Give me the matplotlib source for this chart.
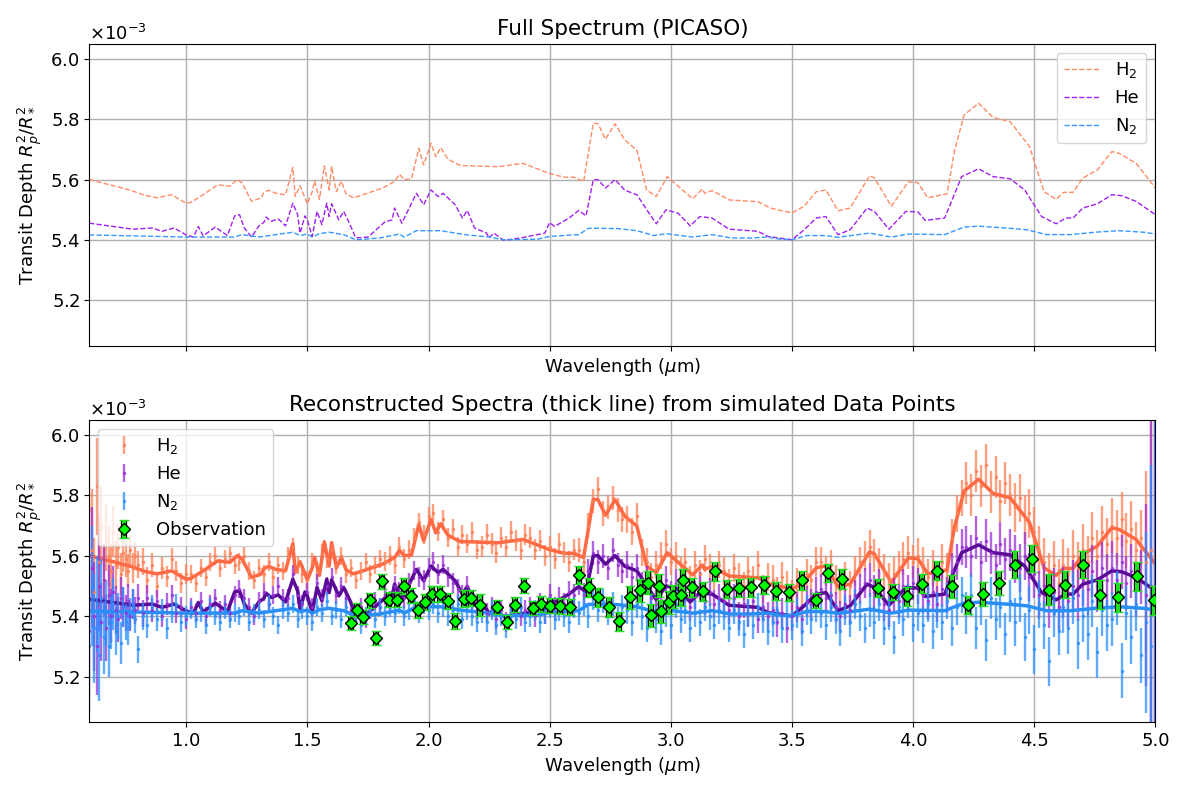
import numpy as np
import matplotlib
matplotlib.use("Agg")
import matplotlib.pyplot as plt
import matplotlib.patheffects as pe

plt.rcParams['font.size'] = 13

# model spectra (PICASO), depth in units of 1e-3
h2_wl = [0.60, 0.70, 0.77, 0.83, 0.88, 0.94, 1.00, 1.02, 1.07, 1.13, 1.18, 1.21, 1.23, 1.27,
         1.31, 1.32, 1.34, 1.37, 1.41, 1.44, 1.45, 1.47, 1.50, 1.52, 1.53, 1.55, 1.57, 1.59,
         1.60, 1.62, 1.64, 1.66, 1.69, 1.73, 1.81, 1.86, 1.88, 1.90, 1.93, 1.96, 1.98, 2.01,
         2.03, 2.05, 2.08, 2.13, 2.29, 2.39, 2.50, 2.56, 2.60, 2.64, 2.68, 2.70, 2.73, 2.77,
         2.81, 2.86, 2.90, 2.94, 2.985, 3.015, 3.09, 3.13, 3.14, 3.17, 3.24, 3.36, 3.41, 3.50,
         3.55, 3.60, 3.64, 3.69, 3.74, 3.82, 3.84, 3.91, 3.98, 4.02, 4.06, 4.14, 4.17, 4.21,
         4.27, 4.33, 4.40, 4.48, 4.54, 4.59, 4.62, 4.66, 4.70, 4.76, 4.82, 4.85, 4.92, 5.00]
h2_model = [5.600, 5.580, 5.565, 5.548, 5.540, 5.550, 5.522, 5.525, 5.550, 5.583, 5.578, 5.600, 5.590, 5.528,
            5.540, 5.557, 5.565, 5.555, 5.550, 5.640, 5.545, 5.580, 5.520, 5.560, 5.595, 5.535, 5.646, 5.566,
            5.643, 5.560, 5.595, 5.553, 5.540, 5.550, 5.572, 5.594, 5.618, 5.600, 5.603, 5.704, 5.649, 5.720,
            5.676, 5.706, 5.668, 5.647, 5.643, 5.654, 5.620, 5.608, 5.608, 5.594, 5.787, 5.785, 5.734, 5.785,
            5.731, 5.698, 5.566, 5.544, 5.610, 5.589, 5.537, 5.569, 5.555, 5.564, 5.533, 5.527, 5.506, 5.490,
            5.512, 5.560, 5.566, 5.497, 5.506, 5.613, 5.606, 5.512, 5.593, 5.590, 5.540, 5.553, 5.693, 5.814,
            5.853, 5.806, 5.792, 5.710, 5.560, 5.535, 5.558, 5.558, 5.605, 5.632, 5.693, 5.687, 5.654, 5.572]

he_wl = [0.60, 0.78, 0.86, 0.90, 0.95, 1.00, 1.03, 1.05, 1.07, 1.12, 1.17, 1.20, 1.22, 1.24,
         1.27, 1.30, 1.32, 1.33, 1.35, 1.38, 1.41, 1.44, 1.46, 1.47, 1.49, 1.50, 1.52, 1.54,
         1.56, 1.58, 1.59, 1.60, 1.63, 1.65, 1.67, 1.70, 1.75, 1.82, 1.85, 1.86, 1.89, 1.95,
         1.98, 2.01, 2.04, 2.06, 2.11, 2.14, 2.16, 2.19, 2.24, 2.25, 2.27, 2.31, 2.38, 2.48,
         2.50, 2.52, 2.58, 2.62, 2.65, 2.68, 2.70, 2.73, 2.77, 2.81, 2.86, 2.91, 2.94, 2.98,
         3.03, 3.08, 3.12, 3.17, 3.24, 3.36, 3.40, 3.50, 3.55, 3.60, 3.64, 3.69, 3.74, 3.81,
         3.84, 3.90, 3.97, 4.02, 4.05, 4.13, 4.20, 4.27, 4.33, 4.40, 4.46, 4.53, 4.59, 4.63,
         4.66, 4.70, 4.76, 4.82, 4.86, 4.92, 5.00]
he_model = [5.456, 5.436, 5.440, 5.429, 5.440, 5.417, 5.410, 5.445, 5.414, 5.443, 5.415, 5.480, 5.484, 5.440,
            5.410, 5.447, 5.458, 5.476, 5.462, 5.470, 5.447, 5.522, 5.484, 5.423, 5.480, 5.467, 5.412, 5.495,
            5.451, 5.522, 5.478, 5.520, 5.467, 5.495, 5.462, 5.407, 5.410, 5.460, 5.467, 5.506, 5.456, 5.555,
            5.517, 5.566, 5.544, 5.555, 5.517, 5.473, 5.498, 5.440, 5.423, 5.407, 5.423, 5.399, 5.407, 5.423,
            5.458, 5.445, 5.473, 5.498, 5.480, 5.600, 5.600, 5.572, 5.600, 5.565, 5.550, 5.489, 5.454, 5.500,
            5.489, 5.447, 5.478, 5.473, 5.436, 5.429, 5.412, 5.401, 5.434, 5.473, 5.478, 5.418, 5.434, 5.506,
            5.495, 5.436, 5.495, 5.493, 5.465, 5.473, 5.610, 5.636, 5.610, 5.603, 5.566, 5.478, 5.454, 5.473,
            5.473, 5.506, 5.520, 5.550, 5.547, 5.528, 5.484]

n2_wl = [0.60, 1.00, 1.20, 1.23, 1.30, 1.44, 1.47, 1.50, 1.52, 1.55, 1.59, 1.65, 1.70, 1.80,
         1.88, 1.90, 1.95, 2.00, 2.05, 2.15, 2.25, 2.31, 2.45, 2.50, 2.62, 2.66, 2.70, 2.78,
         2.86, 2.93, 2.98, 3.09, 3.17, 3.25, 3.33, 3.40, 3.45, 3.50, 3.56, 3.64, 3.69, 3.82,
         3.91, 3.98, 4.13, 4.21, 4.27, 4.40, 4.47, 4.55, 4.65, 4.75, 4.85, 4.95, 5.00]
n2_model = [5.417, 5.410, 5.410, 5.418, 5.410, 5.426, 5.415, 5.420, 5.410, 5.421, 5.426, 5.418, 5.401, 5.407,
            5.420, 5.410, 5.431, 5.431, 5.431, 5.418, 5.410, 5.401, 5.403, 5.412, 5.418, 5.439, 5.439, 5.438,
            5.431, 5.415, 5.421, 5.410, 5.418, 5.407, 5.407, 5.410, 5.403, 5.401, 5.415, 5.415, 5.409, 5.423,
            5.410, 5.420, 5.418, 5.443, 5.446, 5.439, 5.434, 5.418, 5.418, 5.426, 5.431, 5.426, 5.420]

# simulated data points (shared wavelength grid and errors)
sim_wl = [0.60, 0.61, 0.62, 0.63, 0.64, 0.65, 0.66, 0.67, 0.68, 0.69,
          0.70, 0.71, 0.72, 0.73, 0.74, 0.75, 0.76, 0.77, 0.78, 0.79, 0.80,
          0.82, 0.84, 0.86, 0.88, 0.90, 0.92, 0.94, 0.96, 0.98, 1.00,
          1.02, 1.04, 1.06, 1.08, 1.10, 1.12, 1.14, 1.16, 1.18, 1.20,
          1.22, 1.24, 1.26, 1.28, 1.30, 1.32, 1.34, 1.36, 1.38, 1.40,
          1.42, 1.44, 1.46, 1.48, 1.50, 1.52, 1.54, 1.56, 1.58, 1.60,
          1.62, 1.64, 1.66, 1.68, 1.70, 1.72, 1.74, 1.76, 1.78, 1.80,
          1.82, 1.84, 1.86, 1.88, 1.90, 1.92, 1.94, 1.96, 1.98, 2.00,
          2.02, 2.04, 2.06, 2.08, 2.10, 2.12, 2.14, 2.16, 2.18, 2.20,
          2.22, 2.24, 2.26, 2.28, 2.30, 2.32, 2.34, 2.36, 2.38, 2.40,
          2.42, 2.44, 2.46, 2.48, 2.50, 2.52, 2.54, 2.56, 2.58, 2.60,
          2.62, 2.64, 2.66, 2.68, 2.70, 2.72, 2.74, 2.76, 2.78, 2.80,
          2.82, 2.84, 2.86, 2.88, 2.90, 2.92, 2.94, 2.96, 2.98, 3.00,
          3.02, 3.04, 3.06, 3.08, 3.10, 3.12, 3.14, 3.16, 3.18, 3.20,
          3.22, 3.24, 3.26, 3.28, 3.30, 3.32, 3.34, 3.36, 3.38, 3.40,
          3.42, 3.44, 3.46, 3.48, 3.50, 3.52, 3.54, 3.56, 3.58, 3.60,
          3.62, 3.64, 3.66, 3.68, 3.70, 3.72, 3.74, 3.76, 3.78, 3.80,
          3.82, 3.84, 3.86, 3.88, 3.90, 3.92, 3.94, 3.96, 3.98, 4.00,
          4.02, 4.04, 4.06, 4.08, 4.10, 4.12, 4.14, 4.16, 4.18, 4.20,
          4.22, 4.24, 4.26, 4.28, 4.30, 4.32, 4.34, 4.36, 4.38, 4.40,
          4.42, 4.44, 4.46, 4.48, 4.50, 4.52, 4.54, 4.56, 4.58, 4.60,
          4.62, 4.64, 4.66, 4.68, 4.70, 4.72, 4.74, 4.76, 4.78, 4.80,
          4.82, 4.84, 4.86, 4.88, 4.90, 4.92, 4.94, 4.96, 4.98, 5.00]
sim_err = [0.22, 0.20, 0.18, 0.16, 0.15, 0.13, 0.12, 0.11, 0.10, 0.09,
           0.085, 0.08, 0.075, 0.07, 0.065, 0.06, 0.055, 0.05, 0.05, 0.045, 0.045,
           0.045, 0.042, 0.04, 0.038, 0.036, 0.035, 0.034, 0.033, 0.032, 0.032,
           0.03, 0.03, 0.03, 0.03, 0.03, 0.03, 0.03, 0.03, 0.03, 0.03,
           0.03, 0.03, 0.03, 0.03, 0.03, 0.03, 0.03, 0.03, 0.03, 0.03,
           0.03, 0.03, 0.03, 0.03, 0.03, 0.03, 0.03, 0.03, 0.03, 0.03,
           0.03, 0.03, 0.03, 0.03, 0.03, 0.03, 0.03, 0.03, 0.03, 0.03,
           0.032, 0.032, 0.032, 0.032, 0.032, 0.032, 0.032, 0.032, 0.032, 0.032,
           0.032, 0.032, 0.032, 0.032, 0.032, 0.032, 0.032, 0.032, 0.032, 0.032,
           0.034, 0.034, 0.034, 0.034, 0.034, 0.034, 0.034, 0.034, 0.034, 0.034,
           0.035, 0.035, 0.035, 0.035, 0.035, 0.035, 0.035, 0.035, 0.035, 0.035,
           0.04, 0.04, 0.04, 0.04, 0.04, 0.04, 0.04, 0.04, 0.04, 0.04,
           0.045, 0.045, 0.045, 0.045, 0.045, 0.045, 0.045, 0.045, 0.045, 0.045,
           0.045, 0.045, 0.045, 0.045, 0.045, 0.045, 0.045, 0.045, 0.045, 0.045,
           0.047, 0.047, 0.047, 0.047, 0.047, 0.047, 0.047, 0.047, 0.047, 0.047,
           0.05, 0.05, 0.05, 0.05, 0.05, 0.05, 0.05, 0.05, 0.05, 0.05,
           0.05, 0.05, 0.05, 0.05, 0.05, 0.05, 0.05, 0.05, 0.05, 0.05,
           0.055, 0.055, 0.055, 0.055, 0.055, 0.055, 0.055, 0.055, 0.055, 0.055,
           0.06, 0.06, 0.06, 0.06, 0.06, 0.06, 0.06, 0.06, 0.06, 0.06,
           0.07, 0.07, 0.07, 0.07, 0.07, 0.07, 0.07, 0.07, 0.07, 0.07,
           0.08, 0.08, 0.08, 0.08, 0.08, 0.08, 0.08, 0.08, 0.08, 0.08,
           0.085, 0.085, 0.085, 0.085, 0.085, 0.085, 0.085, 0.085, 0.085, 0.085,
           0.09, 0.09, 0.09, 0.09, 0.09, 0.09, 0.09, 0.3, 0.6, 1.5]
h2_sim = [5.75, 5.62, 5.48, 5.83, 5.58, 5.70, 5.52, 5.66, 5.60, 5.55,
          5.68, 5.57, 5.63, 5.54, 5.61, 5.59, 5.55, 5.62, 5.56, 5.60, 5.57,
          5.58, 5.52, 5.57, 5.50, 5.56, 5.53, 5.59, 5.55, 5.51, 5.54,
          5.54, 5.51, 5.56, 5.53, 5.58, 5.60, 5.56, 5.59, 5.61, 5.57,
          5.58, 5.60, 5.55, 5.52, 5.56, 5.54, 5.58, 5.53, 5.57, 5.55,
          5.60, 5.63, 5.57, 5.54, 5.52, 5.58, 5.55, 5.61, 5.59, 5.62,
          5.57, 5.60, 5.54, 5.56, 5.52, 5.55, 5.58, 5.54, 5.57, 5.59,
          5.58, 5.60, 5.57, 5.63, 5.59, 5.62, 5.66, 5.71, 5.67, 5.73,
          5.74, 5.68, 5.72, 5.66, 5.69, 5.63, 5.67, 5.64, 5.68, 5.62,
          5.63, 5.67, 5.64, 5.61, 5.66, 5.63, 5.68, 5.65, 5.62, 5.67,
          5.66, 5.62, 5.65, 5.60, 5.63, 5.59, 5.64, 5.61, 5.58, 5.62,
          5.62, 5.58, 5.70, 5.78, 5.82, 5.74, 5.76, 5.79, 5.75, 5.72,
          5.72, 5.68, 5.73, 5.61, 5.58, 5.53, 5.57, 5.60, 5.64, 5.58,
          5.60, 5.55, 5.58, 5.52, 5.57, 5.54, 5.59, 5.56, 5.53, 5.57,
          5.55, 5.51, 5.56, 5.53, 5.50, 5.55, 5.52, 5.57, 5.49, 5.53,
          5.52, 5.48, 5.53, 5.50, 5.47, 5.51, 5.49, 5.54, 5.52, 5.58,
          5.58, 5.55, 5.57, 5.52, 5.49, 5.53, 5.50, 5.55, 5.58, 5.60,
          5.63, 5.60, 5.57, 5.55, 5.52, 5.54, 5.56, 5.59, 5.61, 5.58,
          5.60, 5.57, 5.53, 5.56, 5.52, 5.58, 5.55, 5.66, 5.74, 5.79,
          5.84, 5.80, 5.88, 5.83, 5.90, 5.81, 5.86, 5.78, 5.84, 5.80,
          5.76, 5.79, 5.72, 5.74, 5.68, 5.62, 5.58, 5.53, 5.57, 5.51,
          5.57, 5.54, 5.60, 5.56, 5.62, 5.58, 5.66, 5.60, 5.68, 5.64,
          5.70, 5.66, 5.72, 5.65, 5.69, 5.62, 5.66, 5.58, 5.62, 5.60]
he_sim = [5.35, 5.56, 5.40, 5.30, 5.50, 5.38, 5.52, 5.36, 5.47, 5.40,
          5.48, 5.42, 5.39, 5.46, 5.43, 5.41, 5.45, 5.40, 5.44, 5.42, 5.46,
          5.41, 5.46, 5.42, 5.45, 5.40, 5.44, 5.47, 5.41, 5.43, 5.39,
          5.43, 5.41, 5.45, 5.40, 5.44, 5.46, 5.42, 5.44, 5.41, 5.47,
          5.49, 5.46, 5.43, 5.40, 5.45, 5.48, 5.44, 5.47, 5.50, 5.46,
          5.46, 5.54, 5.47, 5.44, 5.48, 5.43, 5.51, 5.46, 5.50, 5.53,
          5.47, 5.50, 5.46, 5.42, 5.40, 5.43, 5.39, 5.42, 5.45, 5.43,
          5.47, 5.45, 5.50, 5.48, 5.46, 5.51, 5.55, 5.53, 5.52, 5.56,
          5.58, 5.54, 5.57, 5.53, 5.51, 5.49, 5.47, 5.50, 5.45, 5.42,
          5.44, 5.41, 5.43, 5.39, 5.42, 5.38, 5.41, 5.43, 5.40, 5.42,
          5.43, 5.40, 5.44, 5.41, 5.47, 5.43, 5.46, 5.44, 5.48, 5.47,
          5.51, 5.47, 5.55, 5.61, 5.58, 5.60, 5.56, 5.62, 5.57, 5.55,
          5.57, 5.53, 5.56, 5.50, 5.52, 5.46, 5.44, 5.49, 5.52, 5.47,
          5.51, 5.47, 5.49, 5.43, 5.47, 5.50, 5.45, 5.48, 5.44, 5.46,
          5.45, 5.42, 5.46, 5.40, 5.44, 5.41, 5.45, 5.39, 5.43, 5.40,
          5.42, 5.38, 5.41, 5.36, 5.40, 5.43, 5.39, 5.45, 5.44, 5.48,
          5.49, 5.46, 5.47, 5.43, 5.40, 5.44, 5.42, 5.47, 5.49, 5.51,
          5.52, 5.48, 5.50, 5.44, 5.42, 5.47, 5.45, 5.50, 5.48, 5.51,
          5.50, 5.47, 5.45, 5.48, 5.44, 5.49, 5.47, 5.55, 5.58, 5.63,
          5.63, 5.60, 5.66, 5.58, 5.65, 5.61, 5.57, 5.64, 5.59, 5.62,
          5.59, 5.56, 5.60, 5.53, 5.54, 5.47, 5.50, 5.44, 5.48, 5.43,
          5.48, 5.45, 5.50, 5.47, 5.52, 5.49, 5.55, 5.50, 5.56, 5.52,
          5.56, 5.52, 5.58, 5.51, 5.55, 5.49, 5.53, 5.47, 5.50, 5.48]
n2_sim = [5.30, 5.50, 5.36, 5.44, 5.27, 5.46, 5.33, 5.41, 5.30, 5.38,
          5.44, 5.35, 5.40, 5.31, 5.43, 5.38, 5.36, 5.41, 5.44, 5.39, 5.29,
          5.40, 5.37, 5.43, 5.39, 5.42, 5.36, 5.41, 5.44, 5.38, 5.40,
          5.42, 5.39, 5.41, 5.37, 5.43, 5.40, 5.38, 5.42, 5.39, 5.41,
          5.40, 5.43, 5.38, 5.41, 5.42, 5.39, 5.44, 5.40, 5.37, 5.42,
          5.41, 5.44, 5.39, 5.42, 5.40, 5.38, 5.43, 5.41, 5.45, 5.40,
          5.42, 5.39, 5.43, 5.38, 5.41, 5.37, 5.40, 5.42, 5.39, 5.43,
          5.40, 5.43, 5.41, 5.44, 5.40, 5.42, 5.45, 5.41, 5.44, 5.42,
          5.44, 5.41, 5.43, 5.40, 5.42, 5.44, 5.39, 5.42, 5.40, 5.38,
          5.41, 5.38, 5.42, 5.37, 5.40, 5.36, 5.41, 5.39, 5.43, 5.38,
          5.40, 5.42, 5.38, 5.41, 5.43, 5.39, 5.42, 5.40, 5.38, 5.43,
          5.41, 5.44, 5.40, 5.46, 5.42, 5.45, 5.41, 5.44, 5.39, 5.43,
          5.42, 5.38, 5.44, 5.40, 5.36, 5.43, 5.39, 5.35, 5.41, 5.37,
          5.44, 5.39, 5.42, 5.36, 5.41, 5.38, 5.43, 5.40, 5.37, 5.42,
          5.40, 5.36, 5.42, 5.38, 5.34, 5.41, 5.37, 5.43, 5.39, 5.35,
          5.38, 5.42, 5.36, 5.40, 5.37, 5.41, 5.35, 5.42, 5.39, 5.43,
          5.41, 5.37, 5.43, 5.39, 5.35, 5.42, 5.38, 5.44, 5.40, 5.36,
          5.42, 5.38, 5.44, 5.36, 5.41, 5.33, 5.43, 5.39, 5.45, 5.37,
          5.41, 5.37, 5.44, 5.35, 5.42, 5.38, 5.45, 5.36, 5.43, 5.47,
          5.41, 5.47, 5.36, 5.44, 5.32, 5.46, 5.39, 5.43, 5.34, 5.45,
          5.38, 5.46, 5.33, 5.42, 5.29, 5.44, 5.37, 5.25, 5.41, 5.35,
          5.43, 5.36, 5.46, 5.31, 5.40, 5.34, 5.45, 5.28, 5.42, 5.37,
          5.39, 5.46, 5.22, 5.41, 5.33, 5.44, 5.27, 5.38, 5.30, 5.42]

# observation points
obs_wl = [1.679, 1.706, 1.731, 1.757, 1.785, 1.810, 1.839, 1.869, 1.897, 1.927,
          1.956, 1.987, 2.016, 2.047, 2.079, 2.111, 2.145, 2.177, 2.212, 2.284,
          2.322, 2.357, 2.393, 2.430, 2.466, 2.503, 2.543, 2.583, 2.622, 2.662,
          2.700, 2.743, 2.787, 2.831, 2.871, 2.906, 2.918, 2.950, 2.961, 2.992,
          3.008, 3.040, 3.052, 3.087, 3.134, 3.182, 3.232, 3.281, 3.331, 3.384,
          3.434, 3.486, 3.540, 3.597, 3.650, 3.705, 3.855, 3.915, 3.975, 4.037,
          4.097, 4.160, 4.226, 4.289, 4.354, 4.420, 4.491, 4.559, 4.628, 4.700,
          4.772, 4.846, 4.922, 4.995]
obs_val = [5.377, 5.421, 5.397, 5.452, 5.328, 5.515, 5.455, 5.455, 5.499, 5.468,
           5.421, 5.447, 5.474, 5.473, 5.451, 5.383, 5.458, 5.460, 5.438, 5.430,
           5.380, 5.438, 5.501, 5.427, 5.440, 5.435, 5.433, 5.430, 5.537, 5.495,
           5.462, 5.430, 5.383, 5.463, 5.485, 5.510, 5.403, 5.501, 5.416, 5.446,
           5.466, 5.471, 5.518, 5.495, 5.482, 5.548, 5.490, 5.493, 5.495, 5.504,
           5.484, 5.479, 5.518, 5.452, 5.543, 5.523, 5.493, 5.480, 5.466, 5.507,
           5.551, 5.499, 5.438, 5.474, 5.510, 5.570, 5.590, 5.488, 5.504, 5.570,
           5.471, 5.462, 5.532, 5.452]
obs_err = [0.024, 0.024, 0.024, 0.026, 0.024, 0.026, 0.026, 0.026, 0.026, 0.026,
           0.026, 0.026, 0.026, 0.026, 0.026, 0.026, 0.028, 0.028, 0.036, 0.024,
           0.024, 0.024, 0.024, 0.024, 0.026, 0.026, 0.026, 0.026, 0.030, 0.030,
           0.032, 0.032, 0.032, 0.038, 0.038, 0.038, 0.038, 0.038, 0.038, 0.038,
           0.038, 0.038, 0.038, 0.032, 0.032, 0.032, 0.030, 0.030, 0.030, 0.030,
           0.030, 0.028, 0.030, 0.026, 0.030, 0.032, 0.030, 0.028, 0.032, 0.032,
           0.032, 0.038, 0.030, 0.040, 0.040, 0.045, 0.045, 0.050, 0.045, 0.045,
           0.048, 0.048, 0.048, 0.048]

labels = [r'$\mathrm{H_2}$', 'He', r'$\mathrm{N_2}$']
thin_colors = ['#ff8c66', '#a020f0', '#3399ff']
thick_colors = ['#ff6a45', '#5a0a96', '#2a8ff5']
point_colors = ['#ff8055', '#9a30d8', '#2a90ff']

models = [(h2_wl, h2_model), (he_wl, he_model), (n2_wl, n2_model)]
sims = [h2_sim, he_sim, n2_sim]
scale = 1e-3

fig, (ax1, ax2) = plt.subplots(2, 1, figsize=(11.9, 7.95), dpi=100, sharex=True)
fig.subplots_adjust(left=0.075, right=0.971, top=0.945, bottom=0.092, hspace=0.245)

# top panel: full model spectra
for (wl, val), lab, c in zip(models, labels, thin_colors):
    ax1.plot(wl, np.array(val) * scale, '--', color=c, lw=1.0, label=lab)
ax1.set_title('Full Spectrum (PICASO)', fontsize=15.5)
ax1.legend(loc='upper right', fontsize=13)

# bottom panel: per species the simulated points, then its reconstructed spectrum
wl_arr = np.array(sim_wl)
err_arr = np.array(sim_err) * scale
for (wl, val), sim, lab, cp, ct in zip(models, sims, labels, point_colors, thick_colors):
    ax2.errorbar(wl_arr, np.array(sim) * scale, yerr=err_arr, fmt='.', ms=3,
                 color=cp, ecolor=cp, elinewidth=1.7, alpha=0.75, label=lab)
    ax2.plot(wl, np.array(val) * scale, '-', color=ct, lw=2.5)

obs = ax2.errorbar(obs_wl, np.array(obs_val) * scale, yerr=np.array(obs_err) * scale,
                   fmt='D', ms=6.5, mfc='lime', mec='k', mew=1.0, ecolor='#22dd22',
                   elinewidth=3, capsize=3.5, capthick=1.5, label='Observation', zorder=5)
for cap in obs[1]:
    cap.set_color('k')
obs[2][0].set_path_effects([pe.Stroke(linewidth=4.5, foreground='k'), pe.Normal()])

ax2.set_title('Reconstructed Spectra (thick line) from simulated Data Points', fontsize=15.5)
ax2.legend(loc='upper left', fontsize=13)

for ax in (ax1, ax2):
    ax.set_xlim(0.6, 5.0)
    ax.set_ylim(5.05e-3, 6.05e-3)
    ax.set_yticks(np.array([5.2, 5.4, 5.6, 5.8, 6.0]) * scale)
    ax.set_xticks([1.0, 1.5, 2.0, 2.5, 3.0, 3.5, 4.0, 4.5, 5.0])
    ax.ticklabel_format(axis='y', style='sci', scilimits=(-3, -3), useMathText=True)
    ax.grid(True, color='#b0b0b0', lw=1.0)
    ax.set_axisbelow(True)
    ax.set_xlabel(r'Wavelength ($\mu$m)')
    ax.set_ylabel(r'Transit Depth $R_p^2/R_*^2$')

plt.setp(ax1.get_xticklabels(), visible=False)

fig.savefig('out.png', dpi=100)
